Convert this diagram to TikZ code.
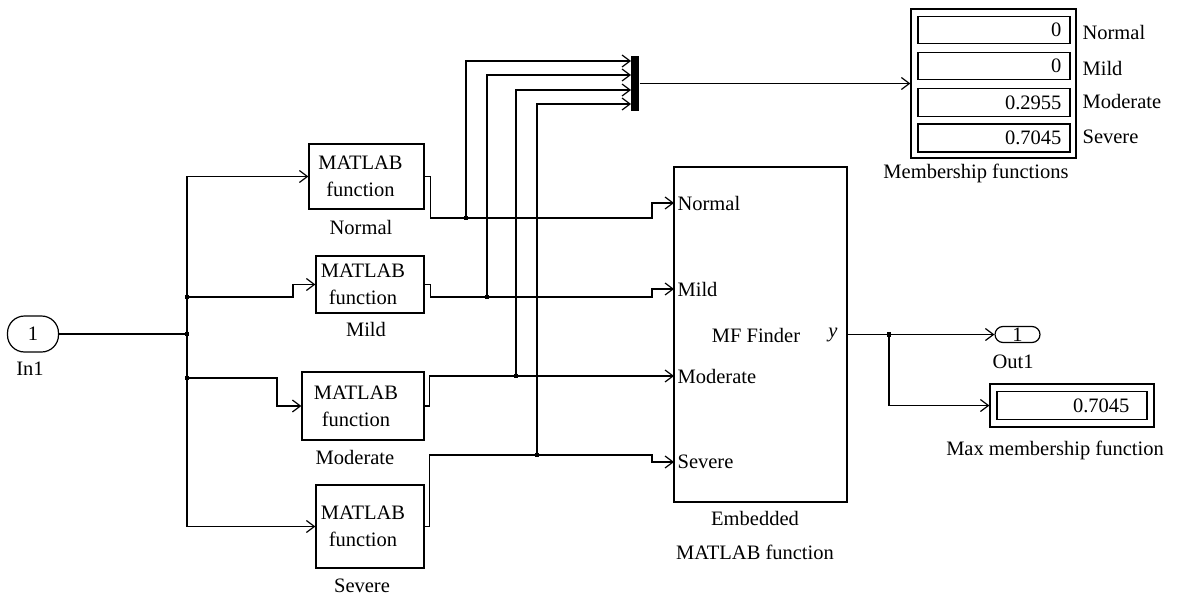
\documentclass[tikz,border=0pt]{standalone}
\usepackage{fontspec}
\setmainfont{Liberation Serif}
\usetikzlibrary{arrows.meta}
\begin{document}
\begin{tikzpicture}[x=1pt,y=-1pt,
  line width=1.2pt,
  every node/.style={font=\fontsize{20.5}{27}\selectfont, inner sep=0pt},
  blk/.style={draw, rectangle, inner sep=0pt},
  arr/.style={-{Straight Barb[length=8pt,width=12pt]}},
  jdot/.style={fill, rectangle, minimum size=4.5pt, inner sep=0pt},
  txt/.style={align=center}
]
\useasboundingbox (0,0) rectangle (1178,597);

% Inport
\node[draw, rounded corners=17pt, minimum width=51pt, minimum height=36pt] (in1) at (33,334) {1};
\node (in1l) at (30,369) {In1};

% MATLAB function blocks
\node[blk, minimum width=115pt, minimum height=65pt] (fn) at (366.5,176.5) {};
\node[txt, xshift=-6pt] (fnt) at (fn.center) {MATLAB\\function};
\node (fnl) at (361,227) {Normal};

\node[blk, minimum width=108pt, minimum height=57pt] (fm) at (370,284.5) {};
\node[txt, xshift=-7pt] (fmt) at (fm.center) {MATLAB\\function};
\node (fml) at (366,329) {Mild};

\node[blk, minimum width=122pt, minimum height=68pt] (fmo) at (363,406) {};
\node[txt, xshift=-7pt] (fmot) at (fmo.center) {MATLAB\\function};
\node (fmol) at (355,457) {Moderate};

\node[blk, minimum width=108pt, minimum height=83pt] (fs) at (370,526.5) {};
\node[txt, xshift=-7pt] (fst) at (fs.center) {MATLAB\\function};
\node (fsl) at (362,586) {Severe};

% Embedded MATLAB function
\node[blk, minimum width=173pt, minimum height=335pt] (mf) at (760.5,334.5) {};
\coordinate (inN) at (674,203);
\coordinate (inM) at (674,289);
\coordinate (inMo) at (674,376);
\coordinate (inS) at (674,462);
\node[anchor=west] (pN) at (677,203) {Normal};
\node[anchor=west] (pM) at (677,289) {Mild};
\node[anchor=west] (pMo) at (677,376) {Moderate};
\node[anchor=west] (pS) at (677,462) {Severe};
\node (mft) at (756,335) {MF Finder};
\node (mfy) at (833,335) {\textit{y}};
\node (mfl1) at (755,518) {Embedded};
\node (mfl2) at (755,552) {MATLAB function};

% Mux
\node[fill, rectangle, minimum width=8pt, minimum height=55pt] (mux) at (635,83.5) {};
\coordinate (mx1) at (631,61);
\coordinate (mx2) at (631,75);
\coordinate (mx3) at (631,90);
\coordinate (mx4) at (631,104);

% Display (membership functions)
\node[blk, minimum width=165pt, minimum height=149pt] (disp) at (993.5,83.5) {};
\node[blk, minimum width=152pt, minimum height=27pt] (d1) at (994,30) {};
\node[blk, minimum width=152pt, minimum height=27pt] (d2) at (994,66) {};
\node[blk, minimum width=152pt, minimum height=28pt] (d3) at (994,102.5) {};
\node[blk, minimum width=152pt, minimum height=28pt] (d4) at (994,138) {};
\node[anchor=east] (v1) at (1062,30) {0};
\node[anchor=east] (v2) at (1062,66) {0};
\node[anchor=east] (v3) at (1062,102.5) {0.2955};
\node[anchor=east] (v4) at (1062,138) {0.7045};
\node[anchor=west] (l1) at (1082,32) {Normal};
\node[anchor=west] (l2) at (1082,68) {Mild};
\node[anchor=west] (l3) at (1082,101) {Moderate};
\node[anchor=west] (l4) at (1082,137) {Severe};
\node (displ) at (976,173) {Membership functions};

% Outport
\node[draw, rounded corners=8pt, minimum width=45pt, minimum height=16pt] (out1) at (1017.5,334.5) {1};
\node (out1l) at (1013,362) {Out1};

% Max display
\node[blk, minimum width=164pt, minimum height=43pt] (maxd) at (1072,405.5) {};
\node[blk, minimum width=150pt, minimum height=28pt] (maxi) at (1072,405.5) {};
\node[anchor=east] (maxv) at (1130,405.5) {0.7045};
\node (maxl) at (1055,450) {Max membership function};

% junctions
\coordinate (j0) at (187,334);
\coordinate (j1) at (187,297);
\coordinate (j2) at (187,378);
\coordinate (jn) at (466,218);
\coordinate (jm) at (487,297);
\coordinate (jmo) at (516,376);
\coordinate (js) at (537,455);
\coordinate (jy) at (889,334.5);

% input distribution
\draw (in1.east) -- (j0);
\draw[arr] (j0) |- (fn.west);
\draw[arr] (j0) |- (fs.west);
\draw[arr] (j1) -- (293,297) |- (fm.west);
\draw[arr] (j2) -- (277,378) |- (fmo.west);

% block outputs to MF finder
\draw[arr] (fn.east) -- ++(6,0) |- (jn) -- (652,218) |- (inN);
\draw[arr] (fm.east) -- ++(6,0) |- (jm) -- (652,297) |- (inM);
\draw[arr] (fmo.east) -- ++(5,0) |- (jmo) -- (inMo);
\draw[arr] (fs.east) -- ++(5,0) |- (js) -- (652,455) |- (inS);

% to mux
\draw[arr] (jn) |- (mx1);
\draw[arr] (jm) |- (mx2);
\draw[arr] (jmo) |- (mx3);
\draw[arr] (js) |- (mx4);
\draw[arr] (mux.east) -- (disp.west);

% output
\draw[arr] (mf.east) -- (out1.west);
\draw[arr] (jy) |- (maxd.west);

% junction dots
\foreach \p in {j0,j1,j2,jn,jm,jmo,js,jy}
  \node[jdot] at (\p) {};
\end{tikzpicture}
\end{document}
